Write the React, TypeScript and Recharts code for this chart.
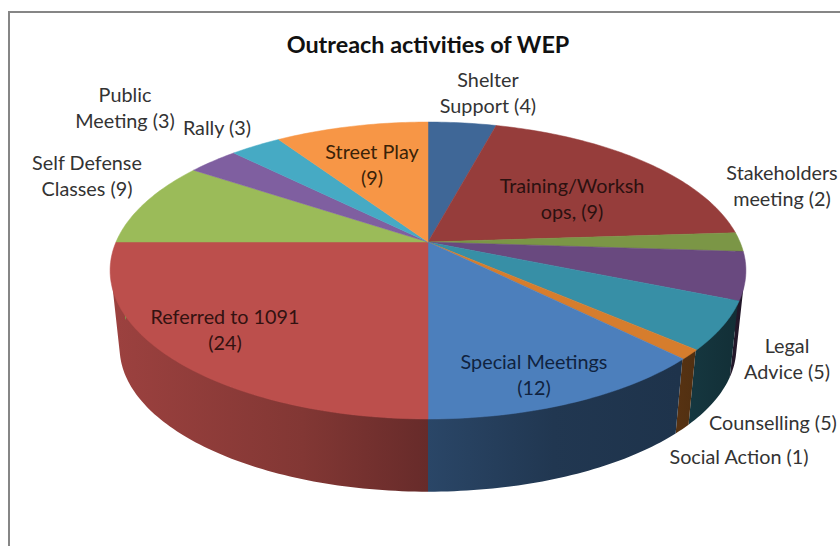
import React from 'react';
import { PieChart, Pie, Cell } from 'recharts';

const TITLE = 'Outreach activities of WEP';
const categories = ['Shelter Support', 'Training/Workshops', 'Stakeholders meeting', 'Legal Advice', 'Counselling', 'Social Action', 'Special Meetings', 'Referred to 1091', 'Self Defense Classes', 'Public Meeting', 'Rally', 'Street Play'];
const values = [4, 19, 2, 5, 5, 1, 12, 24, 9, 3, 3, 9];
const labelLines = [
  ['Shelter', 'Support (4)'],
  ['Training/Worksh', 'ops, (9)'],
  ['Stakeholders', 'meeting (2)'],
  ['Legal', 'Advice (5)'],
  ['Counselling (5)'],
  ['Social Action (1)'],
  ['Special Meetings', '(12)'],
  ['Referred to 1091', '(24)'],
  ['Self Defense', 'Classes (9)'],
  ['Public', 'Meeting (3)'],
  ['Rally (3)'],
  ['Street Play', '(9)'],
];

// Styling and layout, kept apart from the data
const colors = ['#3F6797', '#963D3B', '#7B9646', '#69497F', '#378FA6', '#D67D2D', '#4C7FBC', '#BC4F4C', '#9BBB59', '#7F5FA0', '#46AAC4', '#F79646'];
const labelSpots: [number, number][] = [
  [488, 87], [572, 193], [782, 180], [787, 353], [773, 430], [739, 464],
  [534, 369], [225, 324], [87, 170], [125, 102], [217, 135], [372, 159],
];
const labelInks = ['#333', '#2b1110', '#333', '#333', '#333', '#333', '#10233f', '#331211', '#333', '#333', '#333', '#3a2208'];

const FONT = 'Lato, sans-serif';
const CX = 428;
const CY = 242;
const RADIUS = 312;
const SQUASH = 143 / 312;
const TILT = 0.192;
const BASE_SCALE = 0.97;
const BASE_CY = 320;

type Pt = [number, number];

const unit = (rechartsAngle: number): Pt => {
  const t = ((90 - rechartsAngle) * Math.PI) / 180;
  return [Math.sin(t), -Math.cos(t)];
};
const topPoint = (X: number, Y: number, r: number): Pt => {
  const w = 1 - TILT * Y;
  return [CX + (r * X) / w, CY + (r * SQUASH * Y) / w];
};
const basePoint = (X: number, Y: number, r: number): Pt => {
  const w = 1 - TILT * Y;
  return [CX + (BASE_SCALE * r * X) / w, BASE_CY + (BASE_SCALE * r * SQUASH * Y) / w];
};
const shadeStops: Pt[] = [[0, 0.84], [0.31, 0.69], [0.5, 0.55], [0.69, 0.43], [0.88, 0.4], [1, 0.3]];
const darken = (hex: string, f: number) => {
  const n = parseInt(hex.slice(1), 16);
  const c = [(n >> 16) & 255, (n >> 8) & 255, n & 255].map((v) => Math.round(v * f));
  return `rgb(${c[0]},${c[1]},${c[2]})`;
};

const TopFace = (p: any) => {
  const n = Math.max(2, Math.ceil(Math.abs(p.endAngle - p.startAngle)));
  const pts: string[] = [`${CX},${CY}`];
  for (let i = 0; i <= n; i++) {
    const a = p.startAngle + ((p.endAngle - p.startAngle) * i) / n;
    const [X, Y] = unit(a);
    const q = topPoint(X, Y, p.outerRadius);
    pts.push(`${q[0].toFixed(2)},${q[1].toFixed(2)}`);
  }
  return <polygon points={pts.join(' ')} fill={p.fill} stroke={p.fill} strokeWidth={0.5} />;
};

const quadPath = (q: Pt[]) => {
  let area = 0;
  q.forEach((v, i) => {
    const w = q[(i + 1) % q.length];
    area += v[0] * w[1] - w[0] * v[1];
  });
  const ordered = area < 0 ? [...q].reverse() : q;
  return 'M' + ordered.map((v) => `${v[0].toFixed(2)} ${v[1].toFixed(2)}`).join('L') + 'Z';
};

const Wall = (p: any) => {
  const n = Math.max(2, Math.ceil(Math.abs(p.endAngle - p.startAngle)));
  const id = `wall-${String(p.fill).slice(1)}`;
  let d = '';
  for (let i = 0; i < n; i++) {
    const a0 = p.startAngle + ((p.endAngle - p.startAngle) * i) / n;
    const a1 = p.startAngle + ((p.endAngle - p.startAngle) * (i + 1)) / n;
    const [X0, Y0] = unit(a0);
    const [X1, Y1] = unit(a1);
    if (Y0 < -0.02 && Y1 < -0.02) continue;
    d += quadPath([
      topPoint(X0, Y0, p.outerRadius - 1),
      topPoint(X1, Y1, p.outerRadius - 1),
      basePoint(X1, Y1, p.outerRadius),
      basePoint(X0, Y0, p.outerRadius),
    ]);
  }
  return (
    <g>
      <defs>
        <linearGradient id={id} gradientUnits="userSpaceOnUse" x1={CX - 330} y1={0} x2={CX + 330} y2={0}>
          {shadeStops.map(([o, s]) => <stop key={o} offset={o} stopColor={darken(p.fill, s)} />)}
        </linearGradient>
      </defs>
      <path d={d} fill={`url(#${id})`} fillRule="nonzero" stroke="none" />
    </g>
  );
};

const renderLabel = (p: any) => {
  const i = p.index;
  const [x, y] = labelSpots[i];
  return (
    <text key={i} x={x} y={y} textAnchor="middle" fontFamily={FONT} fontSize={19.8} fill={labelInks[i]}>
      {labelLines[i].map((line, j) => (
        <tspan key={j} x={x} y={y + j * 26}>{line}</tspan>
      ))}
    </text>
  );
};

const table = categories.map((name, i) => ({ name, value: values[i] }));

export default function App() {
  return (
    <div style={{ position: 'absolute', left: 0, top: 0, width: 840, height: 546, background: '#fff', overflow: 'hidden' }}>
      <div style={{ position: 'absolute', left: 8, top: 11, width: 840, height: 546, borderLeft: '2px solid #868686', borderTop: '2px solid #868686' }} />
      <div style={{ position: 'absolute', left: 0, top: 0 }}>
        <PieChart width={840} height={546} margin={{ top: 0, right: 0, bottom: 0, left: 0 }}>
          <text x={428} y={53} textAnchor="middle" fontFamily={FONT} fontSize={23.4} fontWeight={700} fill="#111">{TITLE}</text>
          <Pie data={table} dataKey="value" nameKey="name" cx={CX} cy={CY} outerRadius={RADIUS} startAngle={90} endAngle={-270} stroke="none" isAnimationActive={false} shape={Wall} legendType="none">
            {table.map((d, i) => <Cell key={d.name} fill={colors[i]} />)}
          </Pie>
          <Pie data={table} dataKey="value" nameKey="name" cx={CX} cy={CY} outerRadius={RADIUS} startAngle={90} endAngle={-270} stroke="none" isAnimationActive={false} shape={TopFace} label={renderLabel} labelLine={false} legendType="none">
            {table.map((d, i) => <Cell key={d.name} fill={colors[i]} />)}
          </Pie>
        </PieChart>
      </div>
    </div>
  );
}
